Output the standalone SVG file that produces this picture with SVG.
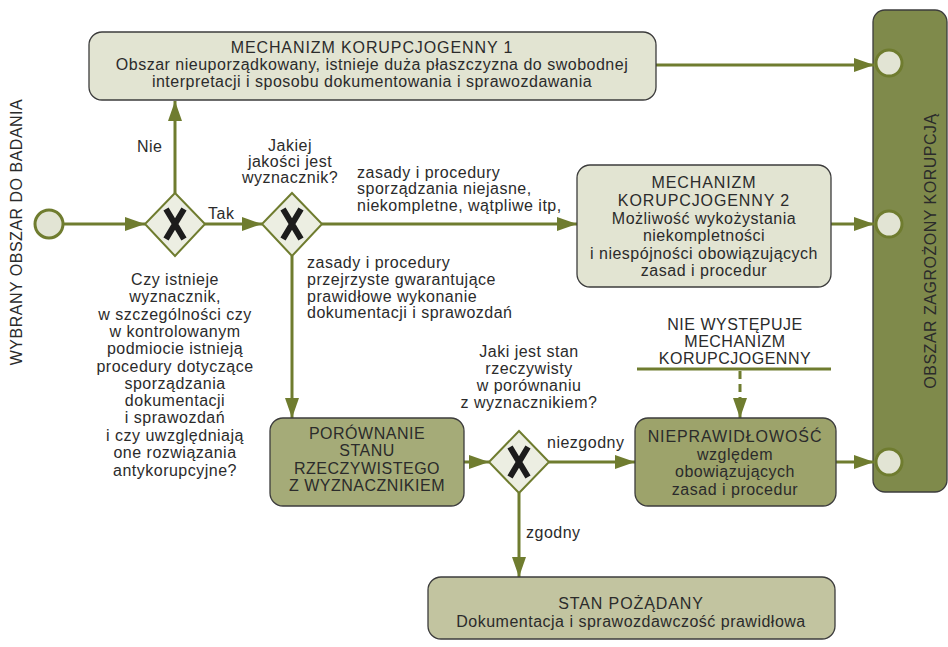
<svg xmlns="http://www.w3.org/2000/svg" width="948" height="647" viewBox="0 0 948 647">
<style>
text{font-family:"Liberation Sans",Arial,sans-serif;fill:#2b2b2b;font-size:16px;letter-spacing:0.5px}
.c{text-anchor:middle}
.cap{letter-spacing:0.9px}
.box{stroke:#3c3c3c;stroke-width:1.3}
.light{fill:#e2e4d2}
.mid{fill:#a5ab78}
.mid2{fill:#9da36b}
.pale{fill:#c2c4a0}
.flow{fill:none;stroke:#6f7c2f;stroke-width:3}
.gw{fill:#eceee2;stroke:#6f7c2f;stroke-width:2}
.xm{stroke:#1c1c1c;stroke-width:6;stroke-linecap:butt}
.ev{fill:#e2e4d4;stroke:#6f7c2f;stroke-width:3}
</style>
<defs>
<marker id="ah" markerUnits="userSpaceOnUse" viewBox="0 0 20 14" refX="20" refY="7" markerWidth="20" markerHeight="14" orient="auto">
<path d="M0,0 L20,7 L0,14 z" fill="#6f7c2f"/>
</marker>
</defs>
<rect width="948" height="647" fill="#ffffff"/>

<g id="lane-left">
<text class="c" transform="translate(22,232) rotate(-90)" font-size="18" letter-spacing="0">WYBRANY OBSZAR DO BADANIA</text>
</g>

<g id="lane-right">
<rect class="box" x="873" y="10" width="74" height="482" rx="12" fill="#7f8a4b"/>
<text class="c" transform="translate(936,251) rotate(-90)" font-size="21" letter-spacing="0">OBSZAR ZAGROŻONY KORUPCJĄ</text>
</g>

<g id="connectors">
<line class="flow" x1="63" y1="224" x2="145" y2="224" marker-end="url(#ah)"/>
<line class="flow" x1="175" y1="193" x2="175" y2="101" marker-end="url(#ah)"/>
<line class="flow" x1="205" y1="224" x2="262" y2="224" marker-end="url(#ah)"/>
<line class="flow" x1="322" y1="224" x2="577" y2="224" marker-end="url(#ah)"/>
<line class="flow" x1="292" y1="256" x2="292" y2="418" marker-end="url(#ah)"/>
<line class="flow" x1="656" y1="65" x2="874" y2="65" marker-end="url(#ah)"/>
<line class="flow" x1="831" y1="224" x2="874" y2="224" marker-end="url(#ah)"/>
<line class="flow" x1="464" y1="462" x2="489" y2="462" marker-end="url(#ah)"/>
<line class="flow" x1="549" y1="462" x2="635" y2="462" marker-end="url(#ah)"/>
<line class="flow" x1="519" y1="493" x2="519" y2="577" marker-end="url(#ah)"/>
<line class="flow" x1="836" y1="462" x2="874" y2="462" marker-end="url(#ah)"/>
<line class="flow" x1="740" y1="371" x2="740" y2="418" stroke-dasharray="8 5" marker-end="url(#ah)"/>
<text x="137" y="152">Nie</text>
<text x="208" y="219">Tak</text>
<text x="357" y="178">zasady i procedury</text>
<text x="357" y="194">sporządzania niejasne,</text>
<text x="357" y="211">niekompletne, wątpliwe itp,</text>
<text x="307" y="268">zasady i procedury</text>
<text x="307" y="285">przejrzyste gwarantujące</text>
<text x="307" y="302">prawidłowe wykonanie</text>
<text x="307" y="318">dokumentacji i sprawozdań</text>
<text x="547" y="448">niezgodny</text>
<text x="526" y="538">zgodny</text>
</g>

<g id="start">
<circle class="ev" cx="49" cy="224" r="14"/>
</g>

<g id="gateway1">
<path class="gw" d="M175,193 L205,224 L175,256 L145,224 z"/>
<path class="xm" d="M166,209 L184,239 M184,209 L166,239"/>
<g class="c">
<text x="175" y="285">Czy istnieje</text>
<text x="175" y="302">wyznacznik,</text>
<text x="175" y="320">w szczególności czy</text>
<text x="175" y="337">w kontrolowanym</text>
<text x="175" y="354">podmiocie istnieją</text>
<text x="175" y="372">procedury dotyczące</text>
<text x="175" y="389">sporządzania</text>
<text x="175" y="406">dokumentacji</text>
<text x="175" y="423">i sprawozdań</text>
<text x="175" y="441">i czy uwzględniają</text>
<text x="175" y="458">one rozwiązania</text>
<text x="175" y="476">antykorupcyjne?</text>
</g>
</g>

<g id="gateway2">
<path class="gw" d="M292,193 L322,224 L292,256 L262,224 z"/>
<path class="xm" d="M283,209 L301,239 M301,209 L283,239"/>
<g class="c">
<text x="290" y="151">Jakiej</text>
<text x="290" y="167">jakości jest</text>
<text x="290" y="183">wyznacznik?</text>
</g>
</g>

<g id="gateway3">
<path class="gw" d="M519,431 L549,462 L519,493 L489,462 z"/>
<path class="xm" d="M510,447 L528,477 M528,447 L510,477"/>
<g class="c">
<text x="529" y="357">Jaki jest stan</text>
<text x="529" y="374">rzeczywisty</text>
<text x="529" y="391">w porównaniu</text>
<text x="529" y="408">z wyznacznikiem?</text>
</g>
</g>

<g id="mech1">
<rect class="box light" x="89" y="32" width="567" height="68" rx="13"/>
<g class="c">
<text class="cap" x="372" y="53">MECHANIZM KORUPCJOGENNY 1</text>
<text x="372" y="70">Obszar nieuporządkowany, istnieje duża płaszczyzna do swobodnej</text>
<text x="372" y="87">interpretacji i sposobu dokumentowania i sprawozdawania</text>
</g>
</g>

<g id="mech2">
<rect class="box light" x="577" y="165" width="254" height="122" rx="13"/>
<g class="c">
<text class="cap" x="704" y="188">MECHANIZM</text>
<text class="cap" x="704" y="206">KORUPCJOGENNY 2</text>
<text x="704" y="224">Możliwość wykożystania</text>
<text x="704" y="241">niekompletności</text>
<text x="704" y="259">i niespójności obowiązujących</text>
<text x="704" y="276">zasad i procedur</text>
</g>
</g>

<g id="brak">
<g class="c cap">
<text x="735" y="330">NIE WYSTĘPUJE</text>
<text x="735" y="347">MECHANIZM</text>
<text x="735" y="364">KORUPCJOGENNY</text>
</g>
<line x1="637" y1="369" x2="831" y2="369" stroke="#6f7c2f" stroke-width="3"/>
</g>

<g id="porownanie">
<rect class="box mid" x="270" y="418" width="194" height="88" rx="13"/>
<g class="c cap">
<text x="367" y="439">PORÓWNANIE</text>
<text x="367" y="456">STANU</text>
<text x="367" y="474">RZECZYWISTEGO</text>
<text x="367" y="491">Z WYZNACZNIKIEM</text>
</g>
</g>

<g id="nieprawidlowosc">
<rect class="box mid2" x="635" y="418" width="201" height="88" rx="13"/>
<g class="c">
<text class="cap" x="735" y="442">NIEPRAWIDŁOWOŚĆ</text>
<text x="735" y="460">względem</text>
<text x="735" y="477">obowiązujących</text>
<text x="735" y="495">zasad i procedur</text>
</g>
</g>

<g id="stan">
<rect class="box pale" x="428" y="577" width="407" height="62" rx="13"/>
<g class="c">
<text class="cap" x="631" y="609">STAN POŻĄDANY</text>
<text x="631" y="627">Dokumentacja i sprawozdawczość prawidłowa</text>
</g>
</g>

<g id="ends">
<circle class="ev" cx="889" cy="63" r="13" stroke-width="2.5"/>
<circle class="ev" cx="889" cy="224" r="13" stroke-width="2.5"/>
<circle class="ev" cx="889" cy="462" r="13" stroke-width="2.5"/>
</g>
</svg>
